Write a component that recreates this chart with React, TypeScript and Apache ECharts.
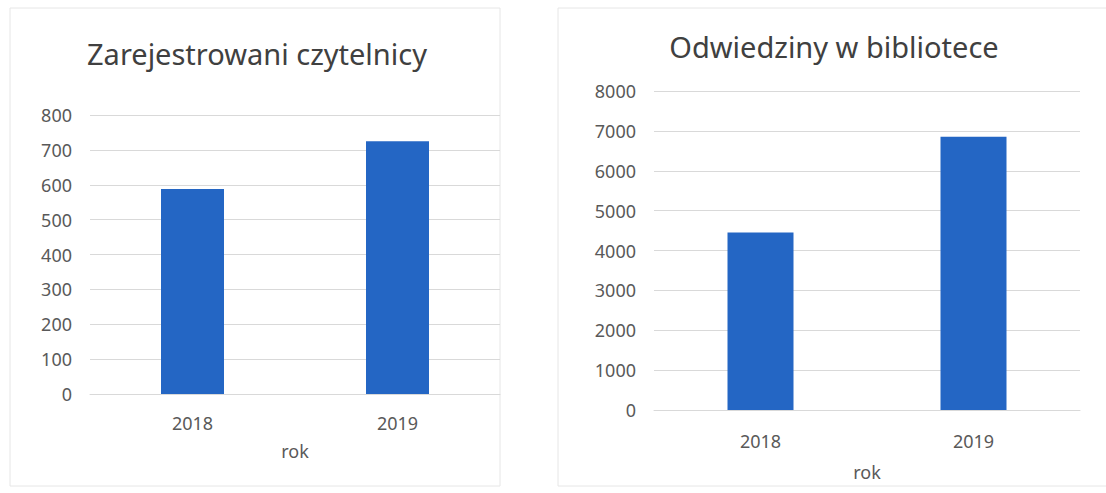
import React, { useEffect, useRef } from "react";
import * as echarts from "echarts";

const years = ["2018", "2019"];
const readers = [588, 725];
const visits = [4450, 6850];
const titleLeft = "Zarejestrowani czytelnicy";
const titleRight = "Odwiedziny w bibliotece";
const axisName = "rok";

const BAR = "#2466c4";
const TXT = "#595959";
const FONT = "Noto Sans";

export default function App() {
  const ref = useRef<HTMLDivElement>(null);
  useEffect(() => {
    const chart = echarts.init(ref.current!, null, { renderer: "svg" });
    const yAxisCommon = {
      type: "value" as const,
      axisLine: { show: false },
      axisTick: { show: false },
      axisLabel: { color: TXT, fontFamily: FONT, fontSize: 18, margin: 18, formatter: (v: number) => String(v) },
      splitLine: { lineStyle: { color: "#d9d9d9", width: 1 } },
    };
    const xAxisCommon = {
      type: "category" as const,
      data: years,
      axisLine: { show: true, lineStyle: { color: "#d9d9d9" } },
      axisTick: { show: false },
      nameLocation: "middle" as const,
      name: axisName,
      nameTextStyle: { color: TXT, fontFamily: FONT, fontSize: 18 },
    };
    chart.setOption({
      animation: false,
      backgroundColor: "#ffffff",
      title: [
        {
          text: titleLeft,
          left: 252,
          top: 34,
          textAlign: "center",
          textStyle: { color: "#404040", fontFamily: FONT, fontSize: 29, fontWeight: "normal" },
        },
        {
          text: titleRight,
          left: 829,
          top: 27,
          textAlign: "center",
          textStyle: { color: "#404040", fontFamily: FONT, fontSize: 29, fontWeight: "normal" },
        },
      ],
      graphic: [
        { type: "rect", shape: { x: 10, y: 8, width: 490, height: 478 }, style: { fill: "none", stroke: "#e6e6e6", lineWidth: 1 } },
        { type: "rect", shape: { x: 558, y: 8, width: 560, height: 478 }, style: { fill: "none", stroke: "#e6e6e6", lineWidth: 1 } },
      ],
      grid: [
        { left: 90, width: 410, top: 115, height: 279 },
        { left: 654, width: 426, top: 91, height: 319 },
      ],
      xAxis: [
        { ...xAxisCommon, gridIndex: 0, nameGap: 48, axisLabel: { color: TXT, fontFamily: FONT, fontSize: 18, margin: 20 } },
        { ...xAxisCommon, gridIndex: 1, nameGap: 53, axisLabel: { color: TXT, fontFamily: FONT, fontSize: 18, margin: 22 } },
      ],
      yAxis: [
        { ...yAxisCommon, gridIndex: 0, min: 0, max: 800, interval: 100 },
        { ...yAxisCommon, gridIndex: 1, min: 0, max: 8000, interval: 1000 },
      ],
      series: [
        { type: "bar", xAxisIndex: 0, yAxisIndex: 0, data: readers, barWidth: 63, itemStyle: { color: BAR } },
        { type: "bar", xAxisIndex: 1, yAxisIndex: 1, data: visits, barWidth: 66, itemStyle: { color: BAR } },
      ],
    });
    return () => chart.dispose();
  }, []);
  return <div ref={ref} style={{ position: "fixed", left: 0, top: 0, width: 1106, height: 493 }} />;
}
